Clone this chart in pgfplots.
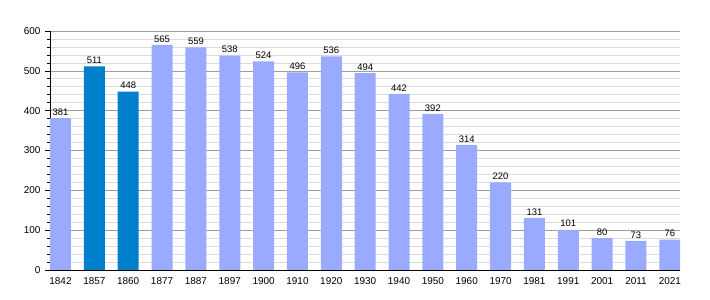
\documentclass[border=0pt]{standalone}
\usepackage{pgfplots}
\pgfplotsset{compat=1.18}
\usepackage{fontspec}
\setmainfont{Liberation Sans}
\definecolor{lb}{RGB}{153,170,255}
\definecolor{db}{RGB}{0,128,204}
\begin{document}
\begin{tikzpicture}
\path[use as bounding box] (0,0) rectangle (710bp,300bp);
\begin{axis}[
  at={(50bp,30bp)}, anchor=south west,
  scale only axis, width=630bp, height=239bp,
  xmin=-0.31, xmax=18.3, ymin=0, ymax=600,
  ytick distance=100, minor y tick num=4,
  ymajorgrids, yminorgrids,
  major grid style={draw=black!38, line width=0.6pt},
  minor grid style={draw=black!14, line width=0.6pt},
  axis lines=left, axis line style={-, black, line width=0.8pt},
  xtick={0,...,18},
  xticklabels={1842,1857,1860,1877,1887,1897,1900,1910,1920,1930,1940,1950,1960,1970,1981,1991,2001,2011,2021},
  xtick style={draw=none},
  ytick style={black, line width=0.6pt},
  tick align=outside, major tick length=5bp, minor tick length=3bp,
  font=\fontsize{10}{11}\selectfont,
  tick label style={font=\fontsize{10}{11}\selectfont},
  yticklabel style={xshift=-1bp},
  xticklabel style={yshift=1bp},
  /pgf/number format/assume math mode=true,
  ybar, bar width=21bp,
  nodes near coords,
  nodes near coords style={font=\fontsize{9.5}{10}\selectfont, inner sep=2.5bp},
]
\addplot[fill=lb, draw=none, bar shift=0pt] coordinates {
(0,381) (3,565) (4,559) (5,538) (6,524) (7,496) (8,536) (9,494) (10,442) (11,392) (12,314) (13,220) (14,131) (15,101) (16,80) (17,73) (18,76)};
\addplot[fill=db, draw=none, bar shift=0pt] coordinates {(1,511) (2,448)};
\end{axis}
\end{tikzpicture}
\end{document}
